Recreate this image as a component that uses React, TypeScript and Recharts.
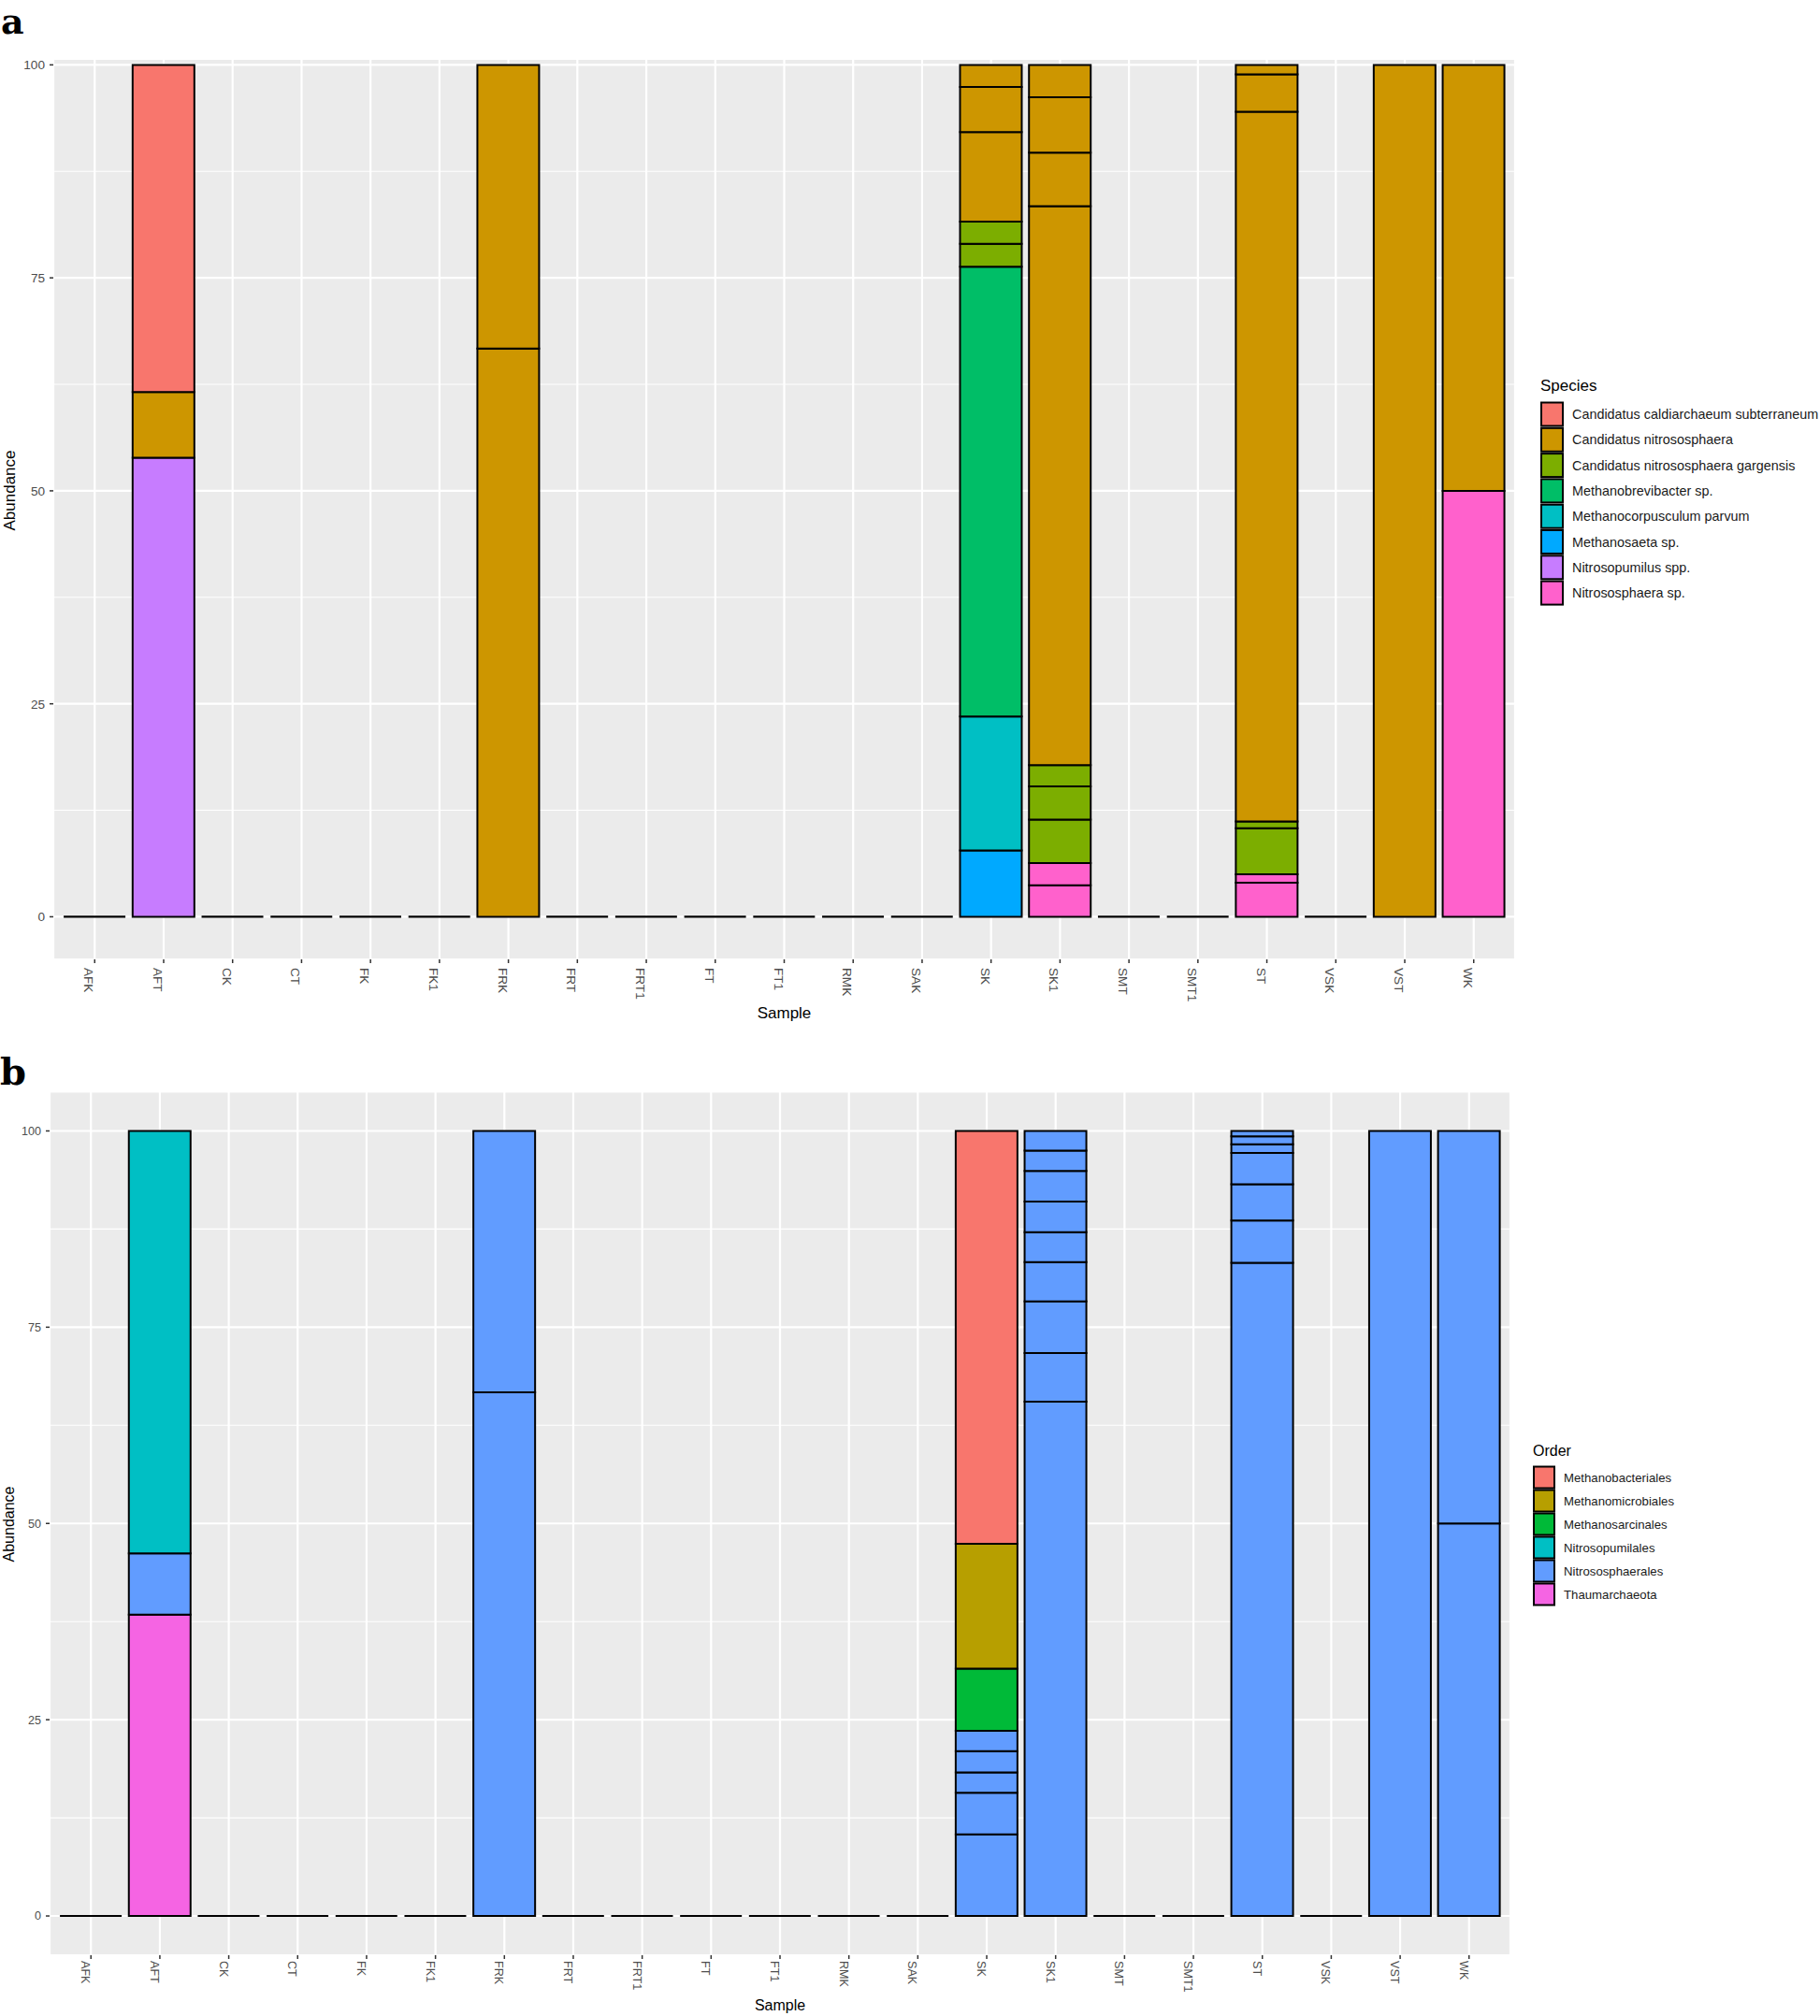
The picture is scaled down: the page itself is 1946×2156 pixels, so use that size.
import React from "react";
import { BarChart, Bar, XAxis, YAxis, CartesianGrid } from "recharts";

const samples = [
  "AFK", "AFT", "CK", "CT", "FK", "FK1", "FRK", "FRT", "FRT1", "FT", "FT1",
  "RMK", "SAK", "SK", "SK1", "SMT", "SMT1", "ST", "VSK", "VST", "WK",
];
const yTicks = [0, 25, 50, 75, 100];
const yMinor = [12.5, 37.5, 62.5, 87.5];

// Panel a - legend order (top of stack first)
const species = [
  "Candidatus caldiarchaeum subterraneum",
  "Candidatus nitrososphaera",
  "Candidatus nitrososphaera gargensis",
  "Methanobrevibacter sp.",
  "Methanocorpusculum parvum",
  "Methanosaeta sp.",
  "Nitrosopumilus spp.",
  "Nitrososphaera sp.",
];
const speciesColors = [
  "#F8766D", "#CD9600", "#7CAE00", "#00BE67", "#00BFC4", "#00A9FF", "#C77CFF", "#FF61CC",
];

// rows of each sample, bottom first: [species index, abundance]
const aAFT = [[6, 53.9], [1, 7.7], [0, 38.4]];
const aFRK = [[1, 66.7], [1, 33.3]];
const aSK = [[5, 7.8], [4, 15.7], [3, 52.8], [2, 2.7], [2, 2.6], [1, 10.5], [1, 5.3], [1, 2.6]];
const aSK1 = [[7, 3.7], [7, 2.6], [2, 5.1], [2, 3.9], [2, 2.5], [1, 65.6], [1, 6.3], [1, 6.5], [1, 3.8]];
const aST = [[7, 4.0], [7, 1.0], [2, 5.4], [2, 0.8], [1, 83.3], [1, 4.4], [1, 1.1]];
const aVST = [[1, 100]];
const aWK = [[7, 50], [1, 50]];

// Panel b
const orders = [
  "Methanobacteriales",
  "Methanomicrobiales",
  "Methanosarcinales",
  "Nitrosopumilales",
  "Nitrososphaerales",
  "Thaumarchaeota",
];
const orderColors = ["#F8766D", "#B79F00", "#00BA38", "#00BFC4", "#619CFF", "#F564E3"];

const bAFT = [[5, 38.4], [4, 7.8], [3, 53.8]];
const bFRK = [[4, 66.7], [4, 33.3]];
const bSK = [[4, 10.4], [4, 5.3], [4, 2.6], [4, 2.7], [4, 2.6], [2, 7.9], [1, 15.9], [0, 52.6]];
const bSK1 = [[4, 65.5], [4, 6.2], [4, 6.6], [4, 5.0], [4, 3.8], [4, 3.9], [4, 3.9], [4, 2.6], [4, 2.5]];
const bST = [[4, 83.2], [4, 5.4], [4, 4.6], [4, 4.0], [4, 1.1], [4, 1.0], [4, 0.7]];
const bVST = [[4, 100]];
const bWK = [[4, 50], [4, 50]];

const rowsA: Record<string, number[][]> = { AFT: aAFT, FRK: aFRK, SK: aSK, SK1: aSK1, ST: aST, VST: aVST, WK: aWK };
const rowsB: Record<string, number[][]> = { AFT: bAFT, FRK: bFRK, SK: bSK, SK1: bSK1, ST: bST, VST: bVST, WK: bWK };

const FONT = "'Liberation Sans', Arial, Helvetica, sans-serif";

// turn per-sample rows into one series per (group, row number), bottom group first
function buildPanel(rows: Record<string, number[][]>, nGroups: number) {
  const maxRows = new Array(nGroups).fill(0);
  const data = samples.map((s) => {
    const row: any = { sample: s, base: 0, empty: !rows[s] };
    const counts: number[] = new Array(nGroups).fill(0);
    (rows[s] || []).forEach(([g, v]) => {
      row[`g${g}_${counts[g]}`] = v;
      counts[g] += 1;
      maxRows[g] = Math.max(maxRows[g], counts[g]);
    });
    return row;
  });
  const series: { key: string; group: number }[] = [];
  for (let g = nGroups - 1; g >= 0; g--) {
    for (let k = 0; k < maxRows[g]; k++) series.push({ key: `g${g}_${k}`, group: g });
  }
  return { data, series };
}

const XTick = (props: any) => {
  const { x, y, payload, fontSize, shift } = props;
  return (
    <text
      transform={`translate(${x},${y}) rotate(90)`}
      dy={shift}
      textAnchor="start"
      fontSize={fontSize}
      fill="#4D4D4D"
      fontFamily={FONT}
    >
      {payload.value}
    </text>
  );
};

// zero-height bars are drawn by ggplot as a flat black line
const ZeroLine = (props: any) => {
  const { x, y, width, payload } = props;
  if (!payload || !payload.empty) return <g />;
  return <line x1={x} x2={x + width} y1={y} y2={y} stroke="#000" strokeWidth={2.2} />;
};

function Panel(props: {
  rows: Record<string, number[][]>;
  colors: string[];
  width: number;
  height: number;
  top: number;
  yAxisWidth: number;
  xAxisHeight: number;
  domain: [number, number];
  tickFont: number;
  tickMargin: number;
  shift: number;
}) {
  const { data, series } = buildPanel(props.rows, props.colors.length);
  return (
    <BarChart
      width={props.width}
      height={props.height}
      data={data}
      margin={{ top: props.top, right: 5, bottom: 0, left: 0 }}
      barCategoryGap="5%"
      style={{ fontFamily: FONT }}
    >
      <CartesianGrid
        yAxisId="minor"
        fill="#EBEBEB"
        fillOpacity={1}
        stroke="#FFFFFF"
        strokeWidth={1.1}
        vertical={false}
      />
      <CartesianGrid stroke="#FFFFFF" strokeWidth={2.2} />
      <XAxis
        dataKey="sample"
        type="category"
        interval={0}
        padding={{ left: 7.4, right: 7.4 }}
        height={props.xAxisHeight}
        tickSize={4}
        tickMargin={props.tickMargin}
        axisLine={false}
        tickLine={{ stroke: "#333333", strokeWidth: 1.5 }}
        tick={(p: any) => <XTick {...p} fontSize={props.tickFont} shift={props.shift} />}
      />
      <YAxis
        type="number"
        domain={props.domain}
        allowDataOverflow
        ticks={yTicks}
        width={props.yAxisWidth}
        tickSize={4}
        tickMargin={5}
        axisLine={false}
        tickLine={{ stroke: "#333333", strokeWidth: 1.5 }}
        tick={{ fill: "#4D4D4D", fontSize: props.tickFont }}
      />
      <YAxis
        yAxisId="minor"
        type="number"
        hide
        domain={props.domain}
        allowDataOverflow
        ticks={yMinor}
      />
      <Bar dataKey="base" stackId="s" shape={<ZeroLine />} isAnimationActive={false} />
      {series.map((s) => (
        <Bar
          key={s.key}
          dataKey={s.key}
          stackId="s"
          fill={props.colors[s.group]}
          stroke="#000000"
          strokeWidth={2}
          isAnimationActive={false}
        />
      ))}
    </BarChart>
  );
}

function LegendBlock(props: {
  title: string;
  names: string[];
  colors: string[];
  x: number;
  titleY: number;
  keyY: number;
  step: number;
  keyW: number;
  keyH: number;
  textX: number;
  titleSize: number;
  textSize: number;
}) {
  return (
    <g fontFamily={FONT}>
      <text x={props.x} y={props.titleY} fontSize={props.titleSize} fill="#000">
        {props.title}
      </text>
      {props.names.map((n, i) => {
        const y = props.keyY + i * props.step;
        return (
          <g key={n}>
            <rect x={props.x + 1} y={y} width={props.keyW} height={props.keyH} fill={props.colors[i]} stroke="#000" strokeWidth={2} />
            <text x={props.textX} y={y + props.keyH / 2} dy="0.35em" fontSize={props.textSize} fill="#1A1A1A">
              {n}
            </text>
          </g>
        );
      })}
    </g>
  );
}

export default function App() {
  return (
    <div style={{ position: "absolute", left: 0, top: 0, width: 1946, height: 2156, background: "#fff", overflow: "hidden" }}>
      <div style={{ position: "absolute", left: 0, top: 0 }}>
        <Panel
          rows={rowsA}
          colors={speciesColors}
          width={1625}
          height={1096}
          top={63}
          yAxisWidth={57}
          xAxisHeight={70}
          domain={[-5, 100.7]}
          tickFont={13.6}
          tickMargin={5}
          shift={11}
        />
      </div>
      <div style={{ position: "absolute", left: 0, top: 1100 }}>
        <Panel
          rows={rowsB}
          colors={orderColors}
          width={1620}
          height={1051}
          top={67.5}
          yAxisWidth={53}
          xAxisHeight={60}
          domain={[-5, 105]}
          tickFont={12.6}
          tickMargin={2}
          shift={10}
        />
      </div>
      <svg
        width={1946}
        height={2156}
        style={{ position: "absolute", left: 0, top: 0, pointerEvents: "none" }}
      >
        <text x={1} y={36} fontFamily="'DejaVu Serif', serif" fontWeight="bold" fontSize={38}>a</text>
        <text x={0} y={1160} fontFamily="'DejaVu Serif', serif" fontWeight="bold" fontSize={40}>b</text>

        <text transform="translate(16,524.5) rotate(-90)" textAnchor="middle" fontSize={17} fontFamily={FONT}>Abundance</text>
        <text transform="translate(15,1630) rotate(-90)" textAnchor="middle" fontSize={16} fontFamily={FONT}>Abundance</text>
        <text x={838.5} y={1089} textAnchor="middle" fontSize={17} fontFamily={FONT}>Sample</text>
        <text x={834} y={2150} textAnchor="middle" fontSize={16} fontFamily={FONT}>Sample</text>

        <LegendBlock
          title="Species"
          names={species}
          colors={speciesColors}
          x={1647}
          titleY={418}
          keyY={430.5}
          step={27.3}
          keyW={23}
          keyH={25}
          textX={1681}
          titleSize={17}
          textSize={14.4}
        />
        <LegendBlock
          title="Order"
          names={orders}
          colors={orderColors}
          x={1639}
          titleY={1557}
          keyY={1568.5}
          step={25}
          keyW={22}
          keyH={23}
          textX={1672}
          titleSize={16}
          textSize={13.2}
        />
      </svg>
    </div>
  );
}
